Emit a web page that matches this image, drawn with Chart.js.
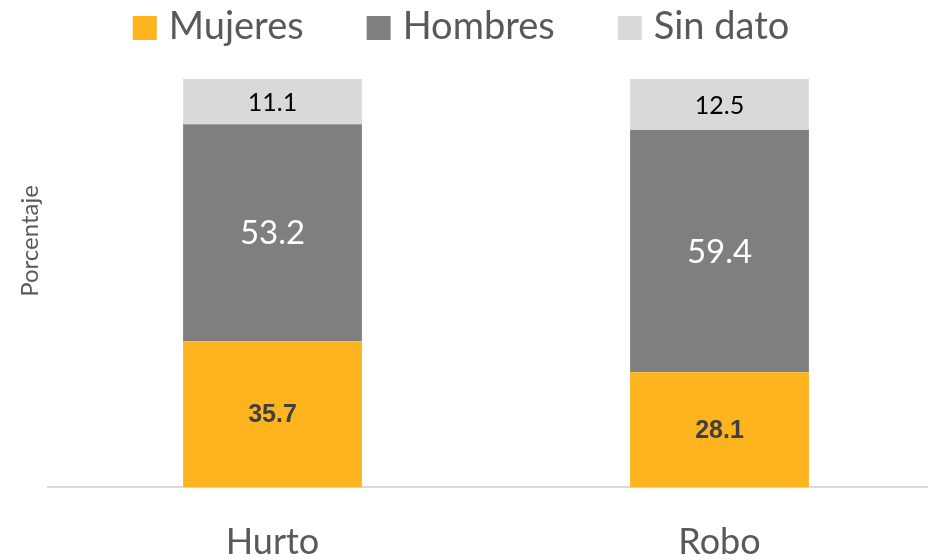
<!DOCTYPE html>
<html><head><meta charset="utf-8">
<script src="https://cdn.jsdelivr.net/npm/chart.js@4/dist/chart.umd.min.js"></script>
<style>html,body{margin:0;padding:0;background:#fff;overflow:hidden}#wrap{width:928px;height:560px;position:relative}</style>
</head><body><div id="wrap"><canvas id="c"></canvas></div>
<script>
const categories = ['Hurto', 'Robo'];
const seriesNames = ['Mujeres', 'Hombres', 'Sin dato'];
const mujeres = [35.7, 28.1];
const hombres = [53.2, 59.4];
const sinDato = [11.1, 12.5];
const yTitle = 'Porcentaje';

const toPoints = arr => arr.map((v, i) => ({ x: i, y: v }));

const labelStyles = [
  { font: 'bold 25px "Liberation Sans"', color: '#404040' },
  { font: '33px Lato', color: '#ffffff' },
  { font: '25px Lato', color: '#000000' }
];

const valueLabels = {
  id: 'valueLabels',
  afterDatasetsDraw(chart) {
    const ctx = chart.ctx;
    chart.data.datasets.forEach((ds, di) => {
      const meta = chart.getDatasetMeta(di);
      meta.data.forEach((el, i) => {
        const p = el.getProps(['x', 'y', 'base'], true);
        ctx.save();
        ctx.font = labelStyles[di].font;
        ctx.fillStyle = labelStyles[di].color;
        ctx.textAlign = 'center';
        ctx.textBaseline = 'middle';
        ctx.fillText(ds.data[i].y.toFixed(1), p.x, (p.y + p.base) / 2 + 1);
        ctx.restore();
      });
    });
  }
};

const customLegend = {
  id: 'customLegend',
  afterDraw(chart) {
    const ctx = chart.ctx;
    ctx.save();
    ctx.font = '38px Lato';
    const box = 24, gap = 12, spacing = 63;
    const widths = chart.data.datasets.map(ds => ctx.measureText(ds.label).width);
    const total = widths.reduce((a, w) => a + box + gap + w, 0) + spacing * (widths.length - 1);
    let x = 461 - total / 2;
    chart.data.datasets.forEach((ds, i) => {
      ctx.fillStyle = ds.backgroundColor;
      ctx.fillRect(x, 16, box, box);
      ctx.fillStyle = '#595959';
      ctx.textBaseline = 'alphabetic';
      ctx.textAlign = 'left';
      ctx.fillText(ds.label, x + box + gap, 39);
      x += box + gap + widths[i] + spacing;
    });
    // y-axis title
    ctx.font = '24px Lato';
    ctx.fillStyle = '#595959';
    ctx.translate(38, 241);
    ctx.rotate(-Math.PI / 2);
    ctx.textAlign = 'center';
    ctx.fillText(yTitle, 0, 0);
    ctx.restore();
  }
};

new Chart(document.getElementById('c'), {
  type: 'bar',
  data: {
    datasets: [
      { label: seriesNames[0], data: toPoints(mujeres), backgroundColor: '#FDB41E' },
      { label: seriesNames[1], data: toPoints(hombres), backgroundColor: '#7F7F7F' },
      { label: seriesNames[2], data: toPoints(sinDato), backgroundColor: '#D9D9D9' }
    ]
  },
  options: {
    responsive: true,
    maintainAspectRatio: false,
    animation: false,
    barPercentage: 0.4,
    categoryPercentage: 1.0,
    layout: { padding: { top: 79, left: 48, right: 0, bottom: 0 } },
    plugins: { legend: { display: false }, tooltip: { enabled: false } },
    scales: {
      x: {
        type: 'linear',
        stacked: true,
        offset: false,
        min: -0.5022,
        max: 1.4664,
        afterBuildTicks: s => { s.ticks = categories.map((c, i) => ({ value: i })); },
        afterFit: s => { s.height = 73; },
        grid: { display: false, offset: false },
        border: { display: true, color: '#D9D9D9', width: 2 },
        ticks: {
          autoSkip: false,
          maxRotation: 0,
          padding: 26,
          color: '#595959',
          font: { family: 'Lato', size: 36 },
          callback: v => categories[v]
        }
      },
      y: {
        stacked: true,
        display: false,
        min: 0,
        max: 100
      }
    }
  },
  plugins: [valueLabels, customLegend]
});
</script>
</body></html>
